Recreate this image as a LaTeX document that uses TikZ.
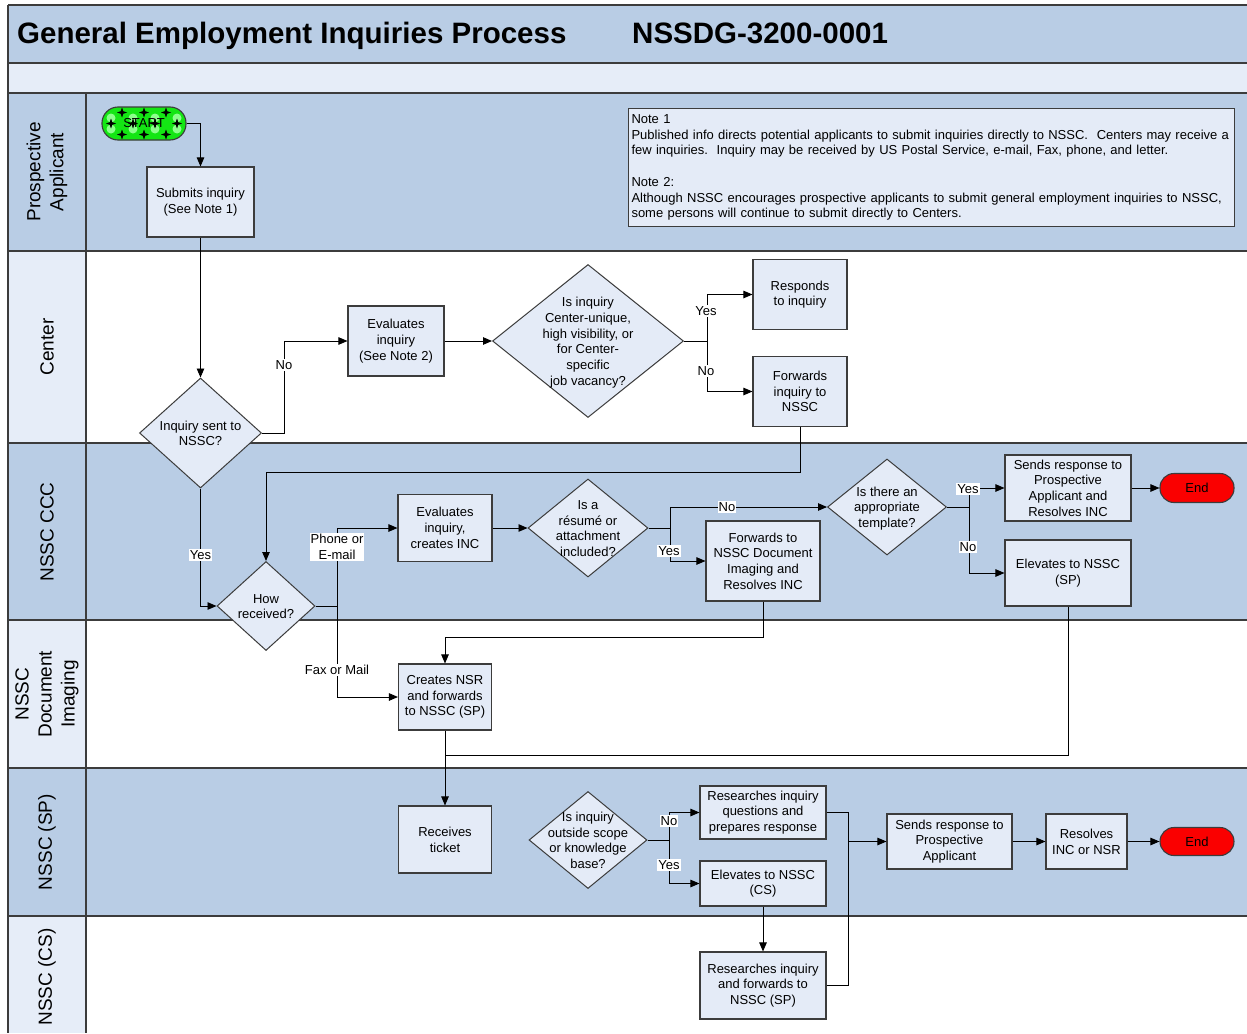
\documentclass[tikz,border=0pt]{standalone}
\usepackage{fontspec}
\setmainfont{Liberation Sans}
\usetikzlibrary{shapes.geometric,arrows.meta,calc}
\definecolor{laneblue}{RGB}{185,205,229}
\definecolor{lanelight}{RGB}{230,237,248}
\definecolor{boxfill}{RGB}{228,235,247}
\definecolor{linegray}{RGB}{60,60,60}
\definecolor{startgreen}{RGB}{20,230,20}
\definecolor{startlight}{RGB}{140,255,140}
\definecolor{endred}{RGB}{250,0,0}
\newcommand{\nfont}{\fontsize{13}{15.7}\selectfont}
\newcommand{\dtxt}[1]{\makebox[0pt]{\smash{\raisebox{-4.75pt}{\begin{tabular}{@{}c@{}}#1\end{tabular}}}}}
\newcommand{\fstar}[1]{\fill[black,sharp corners] (#1) ++(-5pt,0pt) -- ++(3.7pt,-1.3pt) -- ++(1.3pt,-3.7pt) -- ++(1.3pt,3.7pt) -- ++(3.7pt,1.3pt) -- ++(-3.7pt,1.3pt) -- ++(-1.3pt,3.7pt) -- ++(-1.3pt,-3.7pt) -- cycle;}
\tikzset{
  proc/.style={rectangle, draw=linegray, line width=1.1pt, fill=boxfill, inner sep=0pt, align=center, font=\nfont},
  dec/.style={diamond, draw=linegray, line width=1pt, fill=boxfill, inner sep=0pt, font=\nfont},
  term/.style={rectangle, draw=linegray, line width=1.1pt, inner sep=0pt, font=\nfont},
  conn/.style={draw=black, line width=0.9pt, -{Triangle[length=9pt,width=7.5pt]}},
  link/.style={draw=black, line width=0.9pt},
  lbl/.style={fill=white, inner sep=1pt, align=center, font=\nfont},
  lanetxt/.style={rotate=90, align=center, font=\fontsize{19}{23}\selectfont},
  laneline/.style={draw=linegray, line width=1.5pt},
}
\begin{document}
\begin{tikzpicture}[x=1pt,y=-1pt]
\useasboundingbox (0,0) rectangle (1247,1033);
% ---------- bands and lanes ----------
\fill[laneblue] (8,5) rectangle (1247,63);
\fill[lanelight] (8,63) rectangle (1247,93);
\fill[laneblue] (8,93) rectangle (1247,251);
\fill[lanelight] (8,251) rectangle (86,443);
\fill[white] (86,251) rectangle (1247,443);
\fill[laneblue] (8,443) rectangle (1247,620);
\fill[lanelight] (8,620) rectangle (86,768);
\fill[white] (86,620) rectangle (1247,768);
\fill[laneblue] (8,768) rectangle (1247,916);
\fill[lanelight] (8,916) rectangle (86,1033);
\fill[white] (86,916) rectangle (1247,1033);
\foreach \yy in {5,63,93,251,443,620,768,916} \draw[laneline] (8,\yy) -- (1247,\yy);
\draw[laneline] (8,5) -- (8,1033);
\draw[laneline] (86,93) -- (86,1033);
% ---------- titles ----------
\node[anchor=base west, inner sep=0pt, font=\fontsize{29.5}{34}\selectfont\bfseries] (title) at (17,43.5) {General Employment Inquiries Process};
\node[anchor=base west, inner sep=0pt, font=\fontsize{29.5}{34}\selectfont\bfseries] (docid) at (632,43.5) {NSSDG-3200-0001};
\node[lanetxt] (lane1) at (47,172) {Prospective\\Applicant};
\node[lanetxt] (lane2) at (47,347) {Center};
\node[lanetxt] (lane3) at (47,532) {NSSC CCC};
\node[lanetxt] (lane4) at (47,694) {NSSC\\Document\\Imaging};
\node[lanetxt] (lane5) at (47,842) {NSSC (SP)};
\node[lanetxt] (lane6) at (47,977) {NSSC (CS)};
% ---------- note ----------
\node[draw=linegray, line width=1pt, fill=boxfill, anchor=north west, minimum width=606pt, minimum height=118pt, inner sep=0pt, text width=600pt, align=left, font=\nfont] (note) at (628,108) {Note 1\\
\mbox{Published info directs potential applicants to submit inquiries directly to NSSC.\ \ Centers may receive a}\\
\mbox{few inquiries.\ \ Inquiry may be received by US Postal Service, e-mail, Fax, phone, and letter.}\\[15.7pt]
Note 2:\\
\mbox{Although NSSC encourages prospective applicants to submit general employment inquiries to NSSC,}\\
\mbox{some persons will continue to submit directly to Centers.}};
% ---------- nodes ----------
\node[term, fill=startgreen, minimum width=84pt, minimum height=33pt, rounded corners=16pt,
  path picture={
    \foreach \dx/\dy in {-33/5.5,-11/5.5,11/5.5,33/5.5,-33/-5.5,-11/-5.5,11/-5.5,33/-5.5}
      {\fill[startlight] ($(path picture bounding box.center)+(\dx pt,\dy pt)$) circle (4.5pt);}
    \foreach \dx/\dy in {-22/11,0/11,22/11,-22/-11,0/-11,22/-11,-33/0,-11/0,11/0,33/0}
      {\fstar{$(path picture bounding box.center)+(\dx pt,\dy pt)$}}
  }] (start) at (144,123.5) {START};
\node[proc, minimum width=107pt, minimum height=70pt] (sub) at (200.5,202) {Submits inquiry\\(See Note 1)};
\node[dec, minimum width=122pt, minimum height=110pt] (q1) at (200.5,433) {\dtxt{Inquiry sent to\\NSSC?}};
\node[proc, minimum width=96pt, minimum height=70pt] (eval1) at (396,341) {Evaluates\\inquiry\\(See Note 2)};
\node[dec, minimum width=191pt, minimum height=153pt] (q2) at (588,341) {\dtxt{Is inquiry\\Center-unique,\\high visibility, or\\for Center-\\specific\\job vacancy?}};
\node[proc, minimum width=94pt, minimum height=70pt] (resp) at (800,294.5) {Responds\\to inquiry};
\node[proc, minimum width=94pt, minimum height=70pt] (fwd1) at (800,391.5) {Forwards\\inquiry to\\NSSC};
\node[dec, minimum width=98pt, minimum height=89pt] (how) at (266,606) {\dtxt{How\\received?}};
\node[proc, minimum width=94pt, minimum height=67pt] (eval2) at (445,528) {Evaluates\\inquiry,\\creates INC};
\node[dec, minimum width=120pt, minimum height=98pt] (q3) at (588,528) {\dtxt{Is a\\résumé or\\attachment\\included?}};
\node[proc, minimum width=114pt, minimum height=80pt] (fwd2) at (763,561) {Forwards to\\NSSC Document\\Imaging and\\Resolves INC};
\node[dec, minimum width=119pt, minimum height=96pt] (q4) at (887,507) {\dtxt{Is there an\\appropriate\\template?}};
\node[proc, minimum width=126pt, minimum height=66pt] (send1) at (1068,488) {Sends response to\\Prospective\\Applicant and\\Resolves INC};
\node[term, fill=endred, minimum width=74pt, minimum height=29pt, rounded corners=14pt] (end1) at (1197,488) {End};
\node[proc, minimum width=126pt, minimum height=66pt] (elev1) at (1068,573) {Elevates to NSSC\\(SP)};
\node[proc, minimum width=93pt, minimum height=66pt] (nsr) at (445,697) {Creates NSR\\and forwards\\to NSSC (SP)};
\node[proc, minimum width=93pt, minimum height=67pt] (recv) at (445,839.5) {Receives\\ticket};
\node[dec, minimum width=118pt, minimum height=97pt] (q5) at (588,840) {\dtxt{Is inquiry\\outside scope\\or knowledge\\base?}};
\node[proc, minimum width=126pt, minimum height=53pt] (res1) at (763,812.5) {Researches inquiry\\questions and\\prepares response};
\node[proc, minimum width=126pt, minimum height=45pt] (elev2) at (763,883.5) {Elevates to NSSC\\(CS)};
\node[proc, minimum width=126pt, minimum height=67pt] (res2) at (763,985.5) {Researches inquiry\\and forwards to\\NSSC (SP)};
\node[proc, minimum width=125pt, minimum height=55pt] (send2) at (949.5,841.5) {Sends response to\\Prospective\\Applicant};
\node[proc, minimum width=81pt, minimum height=55pt] (res3) at (1086.5,841.5) {Resolves\\INC or NSR};
\node[term, fill=endred, minimum width=74pt, minimum height=28pt, rounded corners=14pt] (end2) at (1197,841.5) {End};
\coordinate (j1) at (445,755);
\coordinate (j2) at (848,841.5);
% ---------- connectors ----------
\draw[conn] (start.east) -| (sub.north);
\draw[conn] (sub.south) -- (q1.north);
\draw[conn] (q1.east) -- ++(22,0) |- (eval1.west);
\draw[conn] (eval1.east) -- (q2.west);
\draw[conn] (q2.east) -- ++(23,0) |- (resp.west);
\draw[conn] (q2.east) -- ++(23,0) |- (fwd1.west);
\draw[conn] (fwd1.south) -- ++(0,45) -| (how.north);
\draw[conn] (q1.south) |- (how.west);
\draw[conn] (how.east) -- ++(22,0) |- (eval2.west);
\draw[conn] (how.east) -- ++(22,0) |- (nsr.west);
\draw[conn] (eval2.east) -- (q3.west);
\draw[conn] (q3.east) -- ++(22,0) |- (q4.west);
\draw[conn] (q3.east) -- ++(22,0) |- (fwd2.west);
\draw[conn] (q4.east) -- ++(22,0) |- (send1.west);
\draw[conn] (q4.east) -- ++(22,0) |- (elev1.west);
\draw[conn] (send1.east) -- (end1.west);
\draw[conn] (fwd2.south) -- ++(0,36) -| (nsr.north);
\draw[conn] (nsr.south) -- (recv.north);
\draw[link] (elev1.south) |- (j1);
\draw[conn] (q5.east) -- ++(22,0) |- (res1.west);
\draw[conn] (q5.east) -- ++(22,0) |- (elev2.west);
\draw[conn] (elev2.south) -- (res2.north);
\draw[link] (res1.east) -| (j2);
\draw[link] (res2.east) -| (j2);
\draw[conn] (j2) -- (send2.west);
\draw[conn] (send2.east) -- (res3.west);
\draw[conn] (res3.east) -- (end2.west);
% ---------- labels ----------
\node[lbl] (l1) at (284,365) {No};
\node[lbl] (l2) at (706,311) {Yes};
\node[lbl] (l3) at (706,371) {No};
\node[lbl] (l4) at (200.5,555) {Yes};
\node[lbl] (l5) at (337,547) {Phone or\\E-mail};
\node[lbl] (l6) at (337,670) {Fax or Mail};
\node[lbl] (l7) at (727,507) {No};
\node[lbl] (l8) at (669,551) {Yes};
\node[lbl] (l9) at (968,489) {Yes};
\node[lbl] (l10) at (968,547) {No};
\node[lbl] (l11) at (669,821) {No};
\node[lbl] (l12) at (669,865) {Yes};
\end{tikzpicture}
\end{document}
